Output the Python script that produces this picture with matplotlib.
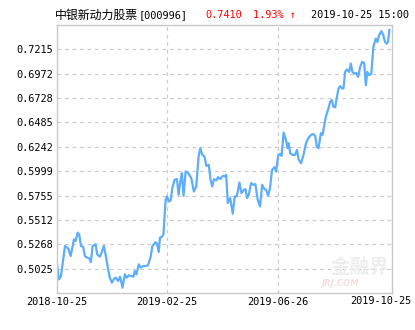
import matplotlib
matplotlib.use('Agg')
import matplotlib.pyplot as plt
from matplotlib.transforms import offset_copy

# trading-day offset from 2018-10-25 and unit NAV
days = [0, 1.4, 2.9, 5.8, 8.2, 9.9, 12.3, 13.5, 15.0, 16.1, 17.4, 19.0, 20.2, 21.9, 23.6, 24.6,
        25.8, 28.0, 29.1, 31.1, 32.3, 34.0, 35.2, 37.1, 38.3, 39.8, 41.4, 42.7, 44.3, 45.8, 47.5,
        49.2, 50.6, 52.1, 54.0, 55.5, 56.4, 57.6, 59.3, 60.7, 62.4, 64.1, 66.0, 67.8, 69.2, 71.4,
        72.5, 73.8, 74.7, 76.2, 77.2, 78.8, 79.8, 81.2, 82.4, 83.7, 85.3, 87.0, 88.2, 89.5, 90.6,
        91.8, 93.3, 94.9, 97.4, 99.3, 101.0, 102.7, 103.9, 105.4, 107.0, 108.3, 110.1, 111.4,
        112.6, 113.8, 115.5, 116.9, 118.4, 120.3, 121.7, 122.7, 123.9, 125.6, 127.5, 128.9,
        130.4, 132.3, 133.8, 135.5, 136.7, 137.9, 139.1, 140.8, 142.5, 143.9, 145.6, 147.3,
        148.8, 150.4, 151.7, 153.1, 154.5, 156.0, 157.7, 158.9, 160.5, 161.8, 162.9, 164.4,
        166.1, 167.3, 168.0, 169.2, 170.9, 172.6, 174.1, 175.2, 177.0, 178.8, 180.6, 182.2,
        184.2, 185.9, 187.3, 188.5, 189.7, 191.4, 192.6, 193.8, 195.0, 196.7, 198.2, 199.4,
        200.5, 201.8, 203.0, 204.2, 205.4, 206.6, 207.8, 209.0, 210.2, 211.9, 213.1, 214.3,
        215.5, 217.0, 218.4, 219.9, 221.3, 222.8, 224.0, 225.1, 226.4, 228.0, 229.5, 231.2,
        232.4, 233.6, 235.3, 236.7, 237.9, 239.2, 240.1, 241.1]
nav = [0.5068, 0.4918, 0.4951, 0.5251, 0.5225, 0.5151, 0.5318, 0.5301, 0.5384, 0.5367, 0.5251,
       0.5241, 0.5151, 0.5135, 0.5125, 0.5091, 0.5251, 0.5268, 0.5168, 0.5145, 0.5185, 0.5251,
       0.5168, 0.5018, 0.4935, 0.4885, 0.4925, 0.4935, 0.4901, 0.4945, 0.4835, 0.4968, 0.4935,
       0.4958, 0.4951, 0.4945, 0.5001, 0.4968, 0.5068, 0.5035, 0.5051, 0.5051, 0.5058, 0.5135,
       0.5250, 0.5290, 0.5277, 0.5191, 0.5334, 0.5344, 0.5367, 0.5713, 0.5746, 0.5696, 0.5706,
       0.5830, 0.5913, 0.5920, 0.5763, 0.5896, 0.5979, 0.5753, 0.5995, 0.5985, 0.5929, 0.5795,
       0.5845, 0.6144, 0.6228, 0.6161, 0.6144, 0.6051, 0.6061, 0.5912, 0.5845, 0.5919, 0.5905,
       0.5939, 0.5919, 0.5952, 0.5945, 0.5962, 0.5680, 0.5730, 0.5574, 0.5746, 0.5746, 0.5885,
       0.5779, 0.5812, 0.5819, 0.5730, 0.5763, 0.5879, 0.5862, 0.5869, 0.5713, 0.5646, 0.5862,
       0.5819, 0.5812, 0.5753, 0.5829, 0.6011, 0.6038, 0.5994, 0.6161, 0.6171, 0.6151, 0.6383,
       0.6310, 0.6228, 0.6277, 0.6178, 0.6161, 0.6161, 0.6211, 0.6118, 0.6078, 0.6161, 0.6277,
       0.6327, 0.6360, 0.6370, 0.6350, 0.6244, 0.6228, 0.6377, 0.6360, 0.6450, 0.6542, 0.6616,
       0.6692, 0.6709, 0.6642, 0.6636, 0.6736, 0.6825, 0.6848, 0.6825, 0.6825, 0.6990, 0.7014,
       0.6990, 0.7073, 0.6990, 0.6974, 0.6980, 0.6940, 0.7039, 0.7089, 0.7079, 0.6857, 0.6990,
       0.6957, 0.6974, 0.7239, 0.7322, 0.7289, 0.7355, 0.7397, 0.7355, 0.7289, 0.7272, 0.7289,
       0.7410]

yticks = [0.5025, 0.5268, 0.5512, 0.5755, 0.5999, 0.6242, 0.6485, 0.6728, 0.6972, 0.7215]
xtick_pos = [0, 80, 160, 243]
xtick_labels = ['2018-10-25', '2019-02-25', '2019-06-26', '2019-10-25']

mono = 'DejaVu Sans Mono'
cjk = ['Noto Sans CJK SC', 'DejaVu Sans']

fig = plt.figure(figsize=(4.15, 3.30), dpi=100)
ax = fig.add_axes([57 / 415, 1 - 293 / 330, (392 - 57) / 415, (293 - 25) / 330])

ax.plot(days, nav, color='#5eadfa', lw=1.6, solid_joinstyle='round')
ax.set_xlim(0, 243)
ax.set_ylim(0.47817, 0.74583)

ax.set_yticks(yticks)
ax.set_yticklabels(['%.4f' % v for v in yticks], fontfamily=mono, fontsize=7.4)
ax.set_xticks(xtick_pos[:3])
ax.set_xticklabels(xtick_labels[:3], fontfamily=mono, fontsize=7.4)
ax.tick_params(length=0, pad=3)

# last date label is pulled left so it stays inside the image
last_tr = offset_copy(ax.get_xaxis_transform(), fig=fig, x=-11, y=-3, units='dots')
ax.text(xtick_pos[3], 0, xtick_labels[3], transform=last_tr, ha='center', va='top',
        fontfamily=mono, fontsize=7.4)

for v in yticks:
    ax.axhline(v, color='#cccccc', lw=0.9, ls=(0, (3, 3)), zorder=0)
for d in xtick_pos[1:3]:
    ax.axvline(d, color='#cccccc', lw=0.9, ls=(0, (3, 3)), zorder=0)

for s in ax.spines.values():
    s.set_color('#c8c8c8')
    s.set_linewidth(1)

# watermark
ax.text(0.99, 0.095, '金融界', transform=ax.transAxes, ha='right', va='center',
        fontsize=14, fontweight='bold', color='#eeeeee', family=cjk, zorder=0)
ax.text(0.90, 0.035, 'JRJ.COM', transform=ax.transAxes, ha='right', va='center',
        fontsize=6, style='italic', fontweight='bold', color='#f5dede', zorder=0)

# header
ty = 1 - 15 / 330
fig.text(55 / 415, ty, '中银新动力股票', family=cjk, fontsize=8.6, va='center', ha='left')
fig.text(139 / 415, ty, '[000996]', family=mono, fontsize=7.4, va='center', ha='left')
fig.text(205 / 415, ty, '0.7410', family=mono, fontsize=7.4, va='center', ha='left', color='#ff0000')
fig.text(253 / 415, ty, '1.93% ↑', family=mono, fontsize=7.4, va='center', ha='left', color='#ff0000')
fig.text(409 / 415, ty, '2019-10-25 15:00', family=mono, fontsize=7.4, va='center', ha='right')

fig.savefig('out.png', dpi=100)
